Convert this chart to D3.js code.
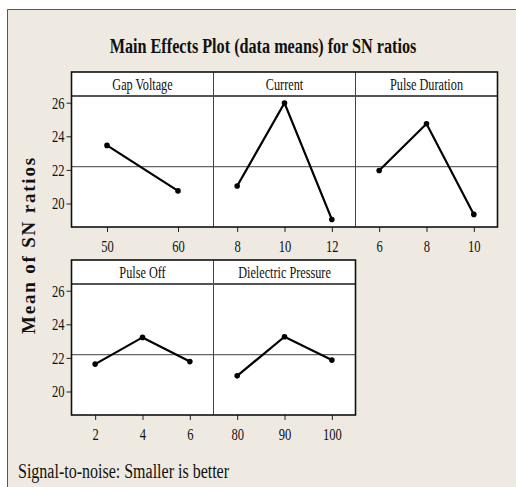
<!DOCTYPE html>
<html>
<head>
<meta charset="utf-8">
<script src="https://cdnjs.cloudflare.com/ajax/libs/d3/7.8.5/d3.min.js"></script>
<style>
  html, body { margin: 0; padding: 0; background: #fff; }
  svg text { font-family: "Liberation Serif", "Times New Roman", serif; fill: #111; }
</style>
</head>
<body>
<div id="chart"></div>
<script>
// Main effects plot for SN ratios (Taguchi)
var factorNames = ["Gap Voltage", "Current", "Pulse Duration", "Pulse Off", "Dielectric Pressure"];

var gapVoltageLevels = [50, 60],
    gapVoltageSN = [23.46, 20.75];
var currentLevels = [8, 10, 12],
    currentSN = [21.04, 25.98, 19.05];
var pulseDurationLevels = [6, 8, 10],
    pulseDurationSN = [21.96, 24.75, 19.35];
var pulseOffLevels = [2, 4, 6],
    pulseOffSN = [21.63, 23.22, 21.78];
var dielectricPressureLevels = [80, 90, 100],
    dielectricPressureSN = [20.93, 23.26, 21.87];

var grandMeanSN = 22.2;
var yTickValues = [20, 22, 24, 26];

var chartTitle = "Main Effects Plot (data means) for SN ratios",
    yTitle = "Mean of SN ratios",
    footNote = "Signal-to-noise: Smaller is better";

var factors = [
    { name: factorNames[0], levels: gapVoltageLevels, values: gapVoltageSN },
    { name: factorNames[1], levels: currentLevels, values: currentSN },
    { name: factorNames[2], levels: pulseDurationLevels, values: pulseDurationSN },
    { name: factorNames[3], levels: pulseOffLevels, values: pulseOffSN },
    { name: factorNames[4], levels: dielectricPressureLevels, values: dielectricPressureSN }
];

var width = 516, height = 487;
var panelW = 142, headerH = 24, plotH = 131,
    gridLeft = 71.5, rowTops = [72, 260], perRow = 3;

// squeeze text horizontally around its anchor x, the original type is narrow
function squeeze(sel, k) {
    sel.each(function () {
        var t = d3.select(this);
        var ax = +t.attr("x") || 0;
        t.attr("transform", "translate(" + (ax * (1 - k)) + ",0) scale(" + k + ",1)");
    });
}

var svg = d3.select("#chart").append("svg")
    .attr("width", width)
    .attr("height", height);

// background + frame
svg.append("rect").attr("x", 0).attr("y", 0).attr("width", width).attr("height", height).attr("fill", "#fff");
svg.append("rect").attr("x", 7).attr("y", 9).attr("width", width - 7).attr("height", height - 9).attr("fill", "#eeeae1");
svg.append("path").attr("d", "M7.5," + height + "V9.5H" + width)
    .attr("fill", "none").attr("stroke", "#555").attr("stroke-width", 1);

var title = svg.append("text")
    .attr("x", 263).attr("y", 53)
    .attr("text-anchor", "middle")
    .style("font-size", "22px").style("font-weight", "bold")
    .text(chartTitle);
title.call(squeeze, 307 / title.node().getComputedTextLength());

var y = d3.scaleLinear().domain([18.6, 26.4]).range([plotH, 0]);

var rows = d3.range(Math.ceil(factors.length / perRow));
rows.forEach(function (r) {
    var rowFactors = factors.slice(r * perRow, r * perRow + perRow);
    var row = svg.append("g")
        .attr("transform", "translate(" + gridLeft + "," + rowTops[r] + ")");
    var rowW = rowFactors.length * panelW;

    // white panels
    row.append("rect").attr("width", rowW).attr("height", headerH + plotH).attr("fill", "#fff");

    var plot = row.append("g").attr("transform", "translate(0," + headerH + ")");

    // y axis
    var yAxis = plot.append("g")
        .call(d3.axisLeft(y).tickValues(yTickValues).tickSize(5).tickPadding(2).tickFormat(d3.format("d")));
    yAxis.select(".domain").remove();
    yAxis.selectAll("line").attr("stroke", "#222");
    yAxis.selectAll("text").style("font-size", "17px").style("font-family", null).attr("fill", "#111")
        .call(squeeze, 0.74);

    rowFactors.forEach(function (f, i) {
        var x0 = i * panelW;
        var x = d3.scalePoint().domain(f.levels).range([x0, x0 + panelW]).padding(0.5);

        // header label
        row.append("text")
            .attr("x", x0 + panelW / 2).attr("y", headerH / 2 + 6)
            .attr("text-anchor", "middle")
            .style("font-size", "17px")
            .text(f.name)
            .call(squeeze, 0.72);

        // grand mean reference line
        plot.append("line")
            .attr("x1", x0).attr("x2", x0 + panelW)
            .attr("y1", y(grandMeanSN)).attr("y2", y(grandMeanSN))
            .attr("stroke", "#666").attr("stroke-width", 1.2);

        // x axis
        var xAxis = plot.append("g")
            .attr("transform", "translate(0," + plotH + ")")
            .call(d3.axisBottom(x).tickSize(5).tickPadding(8));
        xAxis.select(".domain").remove();
        xAxis.selectAll("line").attr("stroke", "#222");
        xAxis.selectAll("text").style("font-size", "17px").style("font-family", null).attr("fill", "#111")
            .call(squeeze, 0.74);

        var pts = f.levels.map(function (l, j) { return { level: l, value: f.values[j] }; });
        plot.append("path")
            .datum(pts)
            .attr("fill", "none").attr("stroke", "#000").attr("stroke-width", 2.2)
            .attr("d", d3.line().x(function (d) { return x(d.level); }).y(function (d) { return y(d.value); }));
        plot.selectAll(".pt" + r + i)
            .data(pts)
            .enter().append("circle")
            .attr("cx", function (d) { return x(d.level); })
            .attr("cy", function (d) { return y(d.value); })
            .attr("r", 2.8)
            .attr("fill", "#000");

        // divider between panels
        if (i > 0) {
            row.append("line")
                .attr("x1", x0).attr("x2", x0)
                .attr("y1", 0).attr("y2", headerH + plotH)
                .attr("stroke", "#444").attr("stroke-width", 1);
        }
    });

    // header separator
    row.append("line")
        .attr("x1", 0).attr("x2", rowW)
        .attr("y1", headerH).attr("y2", headerH)
        .attr("stroke", "#555").attr("stroke-width", 2);

    // row outline
    row.append("rect")
        .attr("width", rowW).attr("height", headerH + plotH)
        .attr("fill", "none").attr("stroke", "#111").attr("stroke-width", 1.6);
});

svg.append("text")
    .attr("transform", "translate(35,245) rotate(-90)")
    .attr("text-anchor", "middle")
    .style("font-size", "19px").style("font-weight", "bold")
    .style("letter-spacing", "1.8px")
    .text(yTitle);

svg.append("text")
    .attr("x", 18).attr("y", 478)
    .style("font-size", "20px")
    .text(footNote)
    .call(squeeze, 0.8);
</script>
</body>
</html>
